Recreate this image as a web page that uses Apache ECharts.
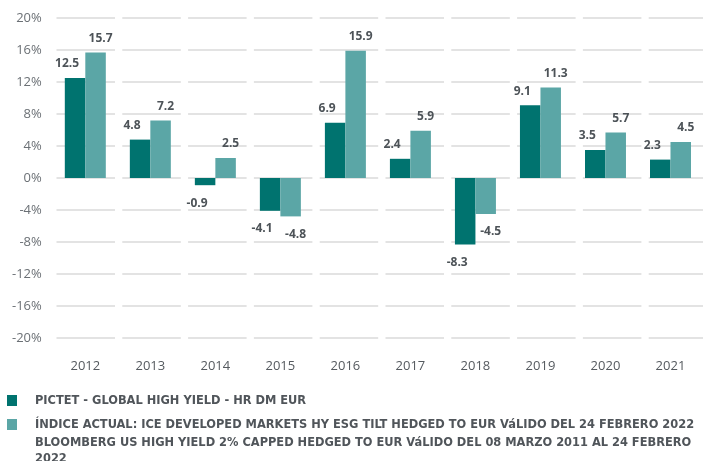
<!DOCTYPE html>
<html lang="es">
<head>
    <meta charset="UTF-8">
    <title>Rentabilidad anual</title>
    <script src="https://cdn.jsdelivr.net/npm/echarts@6/dist/echarts.min.js"></script>
    <style>
        html, body { margin: 0; padding: 0; background: #fff; }
        #viz { width: 703px; height: 461px; }
    </style>
</head>
<body>
    <div id="viz"></div>
    <script>
        const years = ['2012', '2013', '2014', '2015', '2016', '2017', '2018', '2019', '2020', '2021'];
        const fund = [12.5, 4.8, -0.9, -4.1, 6.9, 2.4, -8.3, 9.1, 3.5, 2.3];
        const index = [15.7, 7.2, 2.5, -4.8, 15.9, 5.9, -4.5, 11.3, 5.7, 4.5];
        const fundName = 'PICTET - GLOBAL HIGH YIELD - HR DM EUR';
        const indexName = 'ÍNDICE ACTUAL: ICE DEVELOPED MARKETS HY ESG TILT HEDGED TO EUR VáLIDO DEL 24 FEBRERO 2022';
        const indexNote = 'BLOOMBERG US HIGH YIELD 2% CAPPED HEDGED TO EUR VáLIDO DEL 08 MARZO 2011 AL 24 FEBRERO\n2022';

        const colors = ['#00736f', '#5ba6a6'];
        const labelColor = '#4d5358';

        // label above positive bars, below negative ones, nudged sideways
        const withLabels = (values, dx) => values.map(v => ({
            value: v,
            label: {
                show: true,
                position: v >= 0 ? 'top' : 'bottom',
                distance: v >= 0 ? 8 : 12,
                offset: [dx, 0],
                formatter: '{c}',
                color: labelColor,
                fontWeight: 'bold',
                fontSize: 12,
                fontFamily: 'Open Sans'
            }
        }));

        const catWidth = 65.8;

        const legendFont = "'DejaVu Sans Condensed', 'Liberation Sans'";
        const legendColor = '#50555a';
        const legendBase = {
            left: 2,
            itemWidth: 10,
            itemHeight: 11,
            icon: 'rect',
            selectedMode: false,
            textStyle: {
                fontFamily: legendFont,
                fontWeight: 'bold',
                fontSize: 12.7,
                color: legendColor,
                padding: [0, 0, 0, 13]
            }
        };

        const option = {
            animation: false,
            color: colors,
            grid: { left: 52.8, top: 18, width: catWidth * 10, height: 320 },
            legend: [
                Object.assign({}, legendBase, { top: 389, data: [fundName] }),
                Object.assign({}, legendBase, { top: 413, data: [indexName] })
            ],
            graphic: [{
                type: 'text',
                left: 35,
                top: 435,
                style: {
                    text: indexNote,
                    fontFamily: legendFont,
                    fontWeight: 'bold',
                    fontSize: 12.7,
                    lineHeight: 15.5,
                    fill: legendColor
                }
            }],
            xAxis: {
                type: 'category',
                data: years,
                axisLine: { show: false },
                axisTick: { show: false },
                axisLabel: { color: '#555a5f', fontSize: 13, fontFamily: 'Open Sans', margin: 22 }
            },
            yAxis: {
                type: 'value',
                min: -20,
                max: 20,
                interval: 4,
                axisLine: { show: false },
                axisTick: { show: false },
                axisLabel: {
                    formatter: '{value}%',
                    color: '#6b7075',
                    fontSize: 13,
                    fontFamily: 'Open Sans',
                    margin: 11
                },
                splitLine: {
                    lineStyle: {
                        color: '#e3e3e3',
                        width: 2,
                        type: [58.5, catWidth - 58.5],
                        dashOffset: catWidth - 3.7
                    }
                }
            },
            series: [
                {
                    name: fundName,
                    type: 'bar',
                    barWidth: 20.5,
                    barGap: '0%',
                    data: withLabels(fund, -8)
                },
                {
                    name: indexName,
                    type: 'bar',
                    barWidth: 20.5,
                    data: withLabels(index, 5)
                }
            ]
        };

        const chart = echarts.init(document.getElementById('viz'), null, { renderer: 'canvas' });
        chart.setOption(option);
        window.onresize = () => chart.resize();
    </script>
</body>
</html>
